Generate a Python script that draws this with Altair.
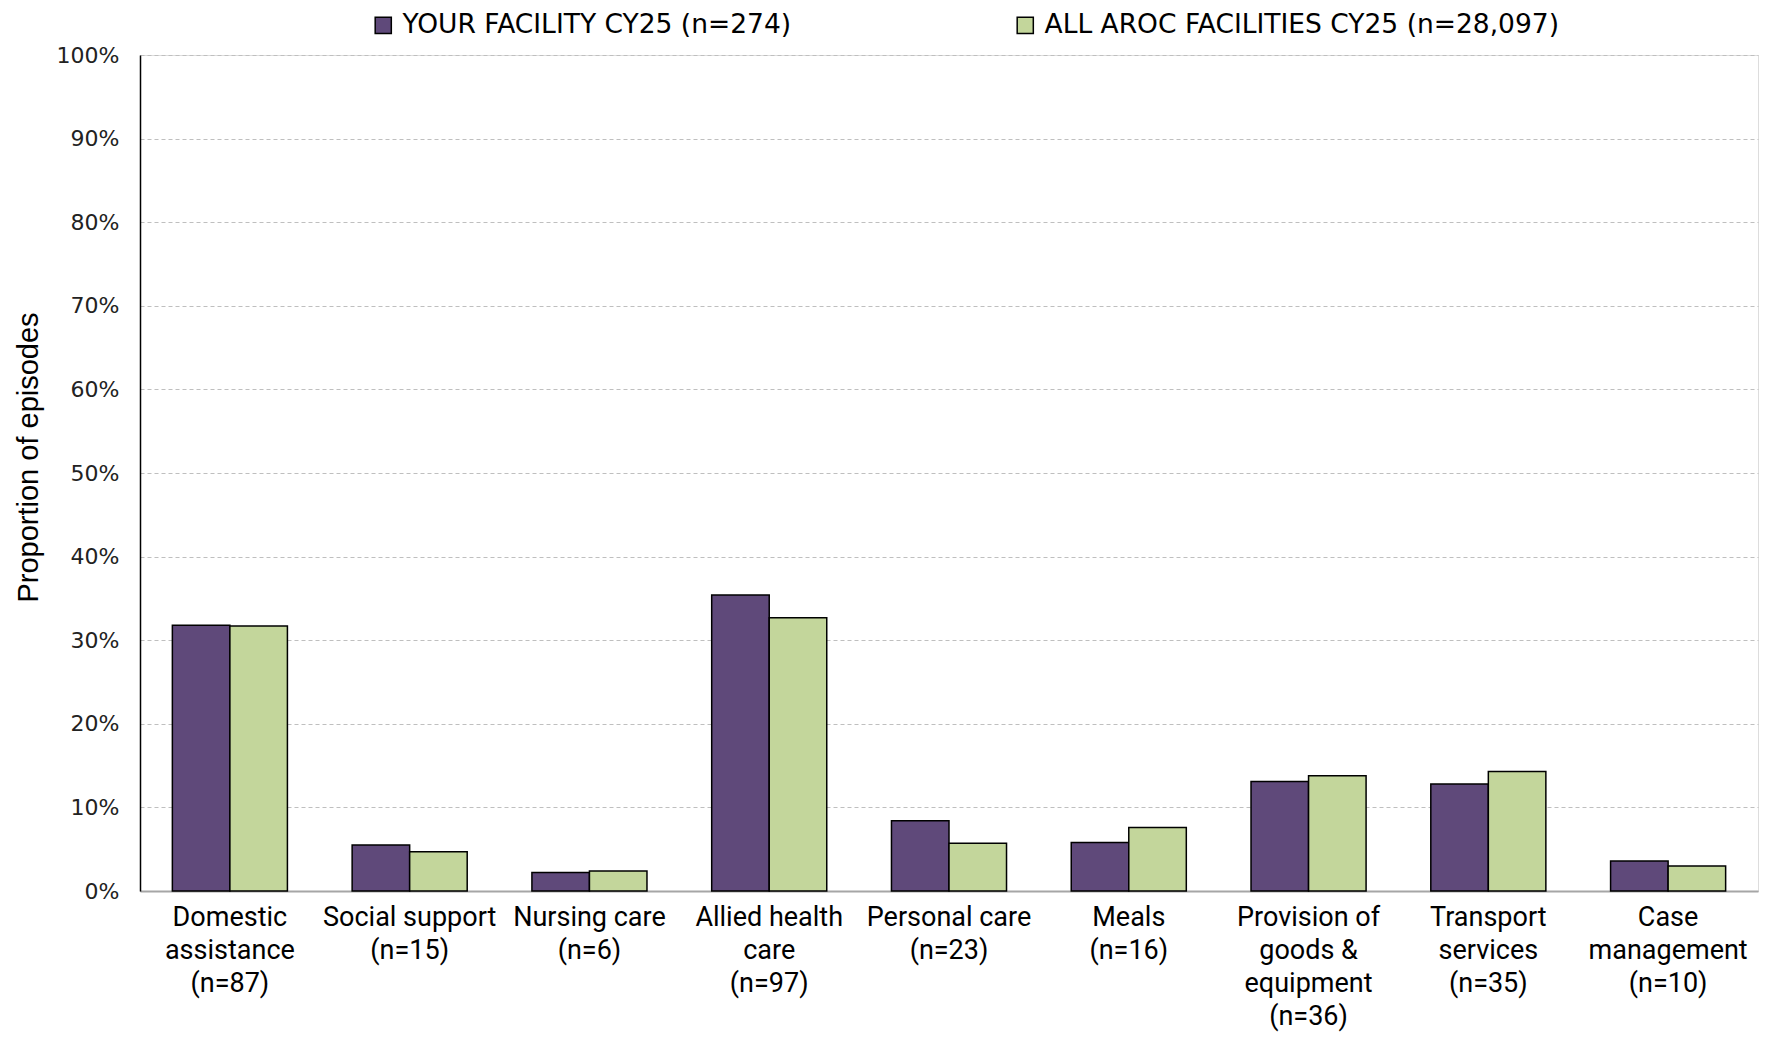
import altair as alt
import pandas as pd

categories = ["Domestic assistance", "Social support", "Nursing care", "Allied health care",
              "Personal care", "Meals", "Provision of goods & equipment",
              "Transport services", "Case management"]
label_lines = ["Domestic|assistance|(n=87)", "Social support|(n=15)", "Nursing care|(n=6)",
               "Allied health|care|(n=97)", "Personal care|(n=23)", "Meals|(n=16)",
               "Provision of|goods &|equipment|(n=36)", "Transport|services|(n=35)",
               "Case|management|(n=10)"]
series = ["YOUR FACILITY CY25 (n=274)", "ALL AROC FACILITIES CY25 (n=28,097)"]
facility = [31.8, 5.5, 2.2, 35.4, 8.4, 5.8, 13.1, 12.8, 3.6]
all_aroc = [31.7, 4.7, 2.4, 32.7, 5.7, 7.6, 13.8, 14.3, 3.0]
colors = ["#5F497A", "#C3D69B"]

rows = []
for c, lab, a, b in zip(categories, label_lines, facility, all_aroc):
    rows.append({"cat": lab, "series": series[0], "value": a / 100})
    rows.append({"cat": lab, "series": series[1], "value": b / 100})
df = pd.DataFrame(rows)

FONT = "Roboto"

chart = alt.Chart(df).mark_bar(stroke="black", strokeWidth=1.5).encode(
    x=alt.X("cat:N", sort=label_lines, title=None,
            scale=alt.Scale(paddingInner=0.36, paddingOuter=0.18),
            axis=alt.Axis(labelExpr="split(datum.label, '|')", labelAngle=0,
                          labelFontSize=27, labelFont=FONT, labelColor="black",
                          labelPadding=13, labelLineHeight=33, labelBaseline="top",
                          ticks=False, domainColor="#A6A6A6", domainWidth=2,
                          labelLimit=0, grid=False)),
    xOffset=alt.XOffset("series:N", sort=series, scale=alt.Scale(paddingInner=0, paddingOuter=0)),
    y=alt.Y("value:Q", title="Proportion of episodes",
            scale=alt.Scale(domain=[0, 1], nice=False),
            axis=alt.Axis(format=".0%", values=[i / 10 for i in range(11)],
                          labelFont="DejaVu Sans", labelFontSize=22, labelColor="#222222",
                          labelPadding=21, ticks=False, domainColor="black", domainWidth=1.5,
                          gridColor="#BFBFBF", gridDash=[4, 3], gridWidth=1.2,
                          titleFont="Liberation Sans", titleFontSize=29, titleFontWeight="normal",
                          titleColor="black", titleY=402, titleX=-112, titleAngle=270,
                          titleAlign="center", titleBaseline="middle")),
    color=alt.Color("series:N", scale=alt.Scale(domain=series, range=colors),
                    legend=alt.Legend(title=None, orient="none", legendX=230, legendY=-43,
                                      direction="horizontal", columnPadding=220,
                                      symbolType="square", symbolSize=260,
                                      symbolStrokeColor="black", symbolStrokeWidth=1.5,
                                      symbolOpacity=1,
                                      labelFont="DejaVu Sans", labelFontSize=26.5, labelColor="black",
                                      labelOffset=6, labelLimit=0)),
).properties(
    width=1618, height=836,
    autosize=alt.AutoSizeParams(type="none"),
    padding={"left": 132, "top": 47, "right": 5, "bottom": 150},
).configure_view(stroke=None).configure(background="white")

chart.save("out.html", embed_options={"renderer": "svg", "actions": False})
